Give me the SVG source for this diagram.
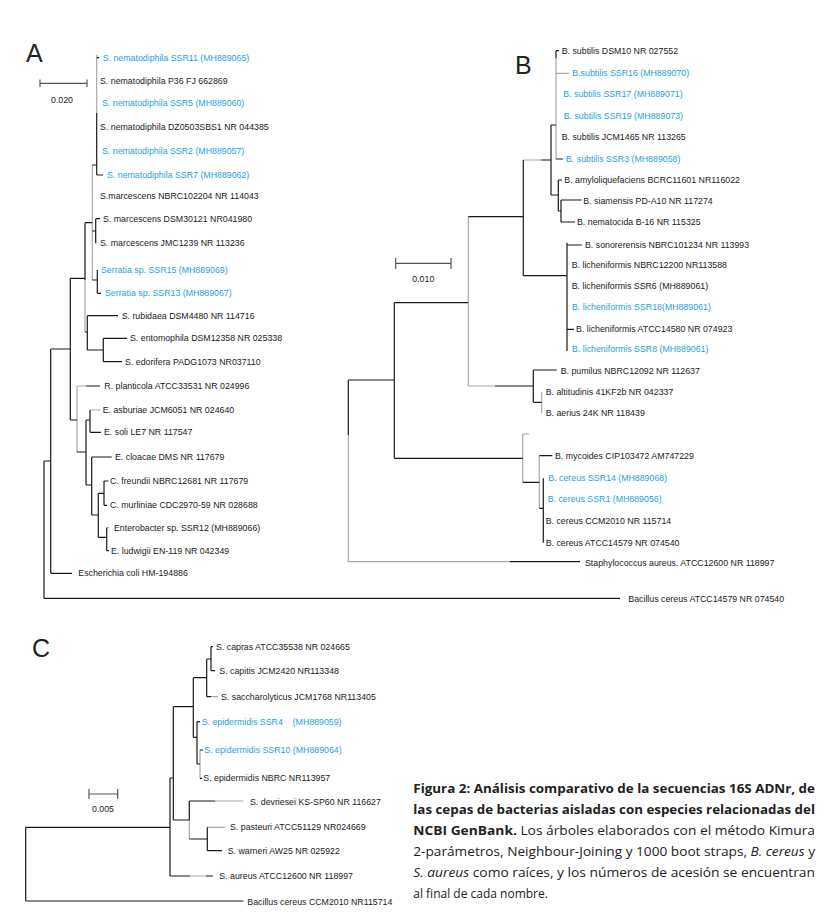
<svg xmlns="http://www.w3.org/2000/svg" width="837" height="915" viewBox="0 0 837 915">
<style>
.br{fill:none;stroke:#1a1a1a;stroke-width:1.2}
.gr{fill:none;stroke:#a8a8a8;stroke-width:1.2}
.sb{fill:none;stroke:#555;stroke-width:1.2}
.lf{font-family:"Liberation Sans",Arial,sans-serif;font-size:8.8px;fill:#1a1a1a}
.bl{fill:#1f9fe0}
.sc{font-family:"Liberation Sans",Arial,sans-serif;font-size:8.8px;fill:#1a1a1a;text-anchor:middle}
.let{font-family:"Liberation Sans",Arial,sans-serif;font-size:25px;fill:#222}
.cap{font-family:"Open Sans","Noto Sans",sans-serif;font-size:12px;fill:#222}
.b{font-weight:bold}
.i{font-style:italic}
</style>
<rect width="837" height="915" fill="#fff"/>

<!-- Panel letters -->
<g id="label-A"><text class="let" x="26" y="62">A</text></g>
<g id="label-B"><text class="let" x="515" y="74">B</text></g>
<g id="label-C"><text class="let" x="32" y="656.5">C</text></g>

<!-- Scale bars -->
<g id="scale-A">
<path class="sb" d="M40,83.3H87M40,79.5V87M87,79.5V87"/>
<text class="sc" x="62" y="103">0.020</text>
</g>
<g id="scale-B">
<path class="sb" d="M395.7,263.3H451M395.7,258V269M451,258V269"/>
<text class="sc" x="423.3" y="282">0.010</text>
</g>
<g id="scale-C">
<path class="sb" d="M89,794H117.7M89,789V799M117.7,789V799"/>
<text class="sc" x="103" y="812">0.005</text>
</g>

<!-- Connectors -->
<g id="connectors">
<g id="branches-A">
<path class="gr" d="M96.7,55V113M92.3,165V280M85,280V332M77,386V452M90,410H100M77,386H86M106.7,527.7H109"/>
<path class="br" d="M96.7,113V175M96.7,57.7H99M96.7,175H103M92.3,165H96.7
M95.7,218.7V243.3M92.3,231H95.7M95.7,218.7H100
M97.3,270V293.3M92.3,280H97.3M97.3,293.3H101
M85,222.7V280M85,222.7H92.3M70.3,278.3H85M85,332H87.3
M87.3,315.7V350M87.3,315.7H118M87.3,350H103.3
M103.3,338.3V361.7M103.3,338.3H127M103.3,361.7H122
M70.3,278.3V420M50.7,349H70.3M70.3,420H77
M86,386H100M77,452H86
M86,420V485M86,420H90M86,485H91.7
M90,410V432.3M90,432.3H101
M91.7,457V515M91.7,457H111.7M91.7,515H98.3
M98.3,493.3V537.3M98.3,493.3H104M98.3,537.3H106.7
M104,481V505.3M104,481H108.5M104,505.3H107
M106.7,527.7V550.7M106.7,550.7H109
M50.7,349V573.3M50.7,573.3H72M44,461H50.7
M44,461V598.3M44,598.3H620"/>
</g>
<g id="branches-B">
<path class="gr" d="M556,58V159M556,73.3H569.3M523.3,160H541M468.3,216.7V386M468.3,386H495M541.7,392V413.3M522.7,434V482.3M522.7,434H529M539.3,455.7V508.3M348.3,435V561.7M348.3,561.7H510"/>
<path class="br" d="M556,50.7V58M556,50.7H559M556,159H563M551,125H556
M551,125V195M551,195H558.3
M558.3,180V211M558.3,180H562M558.3,211H561
M561,200V222M561,200H581.7M561,222H575
M541,160H551
M523.3,160V275.7M523.3,275.7H567
M567,242.7V351M567,245H581.7M567,329.3H574
M468.3,216.7H523.3
M495,386H533.3
M533.3,370V402.3M533.3,370H556.7M533.3,402.3H541.7
M394.3,302.7H468.3
M394.3,302.7V458.3M394.3,458.3H522.7
M522.7,482.3H539.3
M539.3,455.7H552.3M539.3,508.3H543.3
M543.3,478.3V542.7
M348.3,380H394.3M348.3,380V435M510,561.7H580"/>
</g>
<g id="branches-C">
<path class="gr" d="M211,696.7H218M200,750V778.3M189.3,820V839M215,801H243.3M207.3,827.3H225M190,876H206"/>
<path class="br" d="M211,646.7V670.7M211,646.7H213M211,670.7H215
M206.7,659V696.7M206.7,659H211M206.7,696.7H211
M193.3,677.7V737.3M193.3,677.7H206.7M193.3,737.3H197
M197,721.7V764M197,721.7H200M197,764H200M200,750H203M200,778.3H202
M173.3,706.7V820M173.3,706.7H193.3M173.3,820H189.3
M189.3,801V820M189.3,801H215M189.3,839H207.3
M207.3,827.3V850.7M207.3,850.7H222
M170,778V876M170,778H173.3M170,876H190M206,876H213
M25.7,827.3H170
M25.7,827.3V901M25.7,901H243.3"/>
</g>
</g>

<!-- Tree A leaves -->
<g id="a01"><text class="lf bl" x="102.7" y="60.7">S. nematodiphila SSR11 (MH889065)</text></g>
<g id="a02"><text class="lf" x="100" y="84">S. nematodiphila P36 FJ 662869</text></g>
<g id="a03"><text class="lf bl" x="102" y="106.3">S. nematodiphila SSR5 (MH889060)</text></g>
<g id="a04"><text class="lf" x="100" y="129.7">S. nematodiphila DZ0503SBS1 NR 044385</text></g>
<g id="a05"><text class="lf bl" x="102" y="153.7">S. nematodiphila SSR2 (MH889057)</text></g>
<g id="a06"><text class="lf bl" x="107" y="178">S. nematodiphila SSR7 (MH889062)</text></g>
<g id="a07"><text class="lf" x="100" y="199">S.marcescens NBRC102204 NR 114043</text></g>
<g id="a08"><text class="lf" x="103" y="221.7">S. marcescens DSM30121 NR041980</text></g>
<g id="a09"><text class="lf" x="100" y="246.3">S. marcescens JMC1239 NR 113236</text></g>
<g id="a10"><text class="lf bl" x="101" y="273">Serratia sp. SSR15 (MH889069)</text></g>
<g id="a11"><text class="lf bl" x="105" y="296.3">Serratia sp. SSR13 (MH889067)</text></g>
<g id="a12"><text class="lf" x="121.7" y="318.7">S. rubidaea DSM4480 NR 114716</text></g>
<g id="a13"><text class="lf" x="130" y="341.3">S. entomophila DSM12358 NR 025338</text></g>
<g id="a14"><text class="lf" x="125" y="364.7">S. edorifera PADG1073 NR037110</text></g>
<g id="a15"><text class="lf" x="104.3" y="389">R. planticola ATCC33531 NR 024996</text></g>
<g id="a16"><text class="lf" x="102.7" y="413">E. asburiae JCM6051 NR 024640</text></g>
<g id="a17"><text class="lf" x="104" y="435.3">E. soli LE7 NR 117547</text></g>
<g id="a18"><text class="lf" x="115" y="460">E. cloacae DMS NR 117679</text></g>
<g id="a19"><text class="lf" x="110" y="484">C. freundii NBRC12681 NR 117679</text></g>
<g id="a20"><text class="lf" x="110" y="508.3">C. murliniae CDC2970-59 NR 028688</text></g>
<g id="a21"><text class="lf" x="114" y="530.7">Enterobacter sp. SSR12 (MH889066)</text></g>
<g id="a22"><text class="lf" x="111" y="553.7">E. ludwigii EN-119 NR 042349</text></g>
<g id="a23"><text class="lf" x="78.3" y="576.3">Escherichia coli HM-194886</text></g>
<g id="a24"><text class="lf" x="628.3" y="602">Bacillus cereus ATCC14579 NR 074540</text></g>

<!-- Tree B leaves -->
<g id="b01"><text class="lf" x="561.7" y="53.7">B. subtilis DSM10 NR 027552</text></g>
<g id="b02"><text class="lf bl" x="572.3" y="76.3">B.subtilis SSR16 (MH889070)</text></g>
<g id="b03"><text class="lf bl" x="563.3" y="97">B. subtilis SSR17 (MH889071)</text></g>
<g id="b04"><text class="lf bl" x="563.7" y="118.7">B. subtilis SSR19 (MH889073)</text></g>
<g id="b05"><text class="lf" x="561.7" y="140.3">B. subtilis JCM1465 NR 113265</text></g>
<g id="b06"><text class="lf bl" x="566" y="162">B. subtilis SSR3 (MH889058)</text></g>
<g id="b07"><text class="lf" x="564.3" y="183">B. amyloliquefaciens BCRC11601 NR116022</text></g>
<g id="b08"><text class="lf" x="583.3" y="204">B. siamensis PD-A10 NR 117274</text></g>
<g id="b09"><text class="lf" x="577" y="225">B. nematocida B-16 NR 115325</text></g>
<g id="b10"><text class="lf" x="585" y="248">B. sonorerensis NBRC101234 NR 113993</text></g>
<g id="b11"><text class="lf" x="571.7" y="268">B. licheniformis NBRC12200 NR113588</text></g>
<g id="b12"><text class="lf" x="571.7" y="288.7">B. licheniformis SSR6 (MH889061)</text></g>
<g id="b13"><text class="lf bl" x="572" y="309.7">B. licheniformis SSR18(MH889061)</text></g>
<g id="b14"><text class="lf" x="576" y="332.3">B. licheniformis ATCC14580 NR 074923</text></g>
<g id="b15"><text class="lf bl" x="572" y="352">B. licheniformis SSR8 (MH889061)</text></g>
<g id="b16"><text class="lf" x="560.7" y="374">B. pumilus NBRC12092 NR 112637</text></g>
<g id="b17"><text class="lf" x="545.7" y="395">B. altitudinis 41KF2b NR 042337</text></g>
<g id="b18"><text class="lf" x="545.7" y="416.3">B. aerius 24K NR 118439</text></g>
<g id="b19"><text class="lf" x="555" y="458.7">B. mycoides CIP103472 AM747229</text></g>
<g id="b20"><text class="lf bl" x="548.3" y="481.3">B. cereus SSR14 (MH889068)</text></g>
<g id="b21"><text class="lf bl" x="547.7" y="502.3">B. cereus SSR1 (MH889056)</text></g>
<g id="b22"><text class="lf" x="545.7" y="523.7">B. cereus CCM2010 NR 115714</text></g>
<g id="b23"><text class="lf" x="545.7" y="545.7">B. cereus ATCC14579 NR 074540</text></g>
<g id="b24"><text class="lf" x="585" y="566">Staphylococcus aureus. ATCC12600 NR 118997</text></g>

<!-- Tree C leaves -->
<g id="c01"><text class="lf" x="216" y="649.7">S. capras ATCC35538 NR 024665</text></g>
<g id="c02"><text class="lf" x="219.3" y="673.7">S. capitis JCM2420 NR113348</text></g>
<g id="c03"><text class="lf" x="221" y="699.7">S. saccharolyticus JCM1768 NR113405</text></g>
<g id="c04"><text class="lf bl" x="201.7" y="724.7" xml:space="preserve">S. epidermidis SSR4    (MH889059)</text></g>
<g id="c05"><text class="lf bl" x="204.3" y="753">S. epidermidis SSR10 (MH889064)</text></g>
<g id="c06"><text class="lf" x="203.3" y="781.3">S. epidermidis NBRC NR113957</text></g>
<g id="c07"><text class="lf" x="250" y="804.7">S. devriesei KS-SP60 NR 116627</text></g>
<g id="c08"><text class="lf" x="230" y="830.3">S. pasteuri ATCC51129 NR024669</text></g>
<g id="c09"><text class="lf" x="227.7" y="853.7">S. warneri AW25 NR 025922</text></g>
<g id="c10"><text class="lf" x="219.3" y="879.3">S. aureus ATCC12600 NR 118997</text></g>
<g id="c11"><text class="lf" x="247.3" y="904.7">Bacillus cereus CCM2010 NR115714</text></g>

<!-- Caption -->
<g id="caption">
<text class="cap b" x="413.3" y="792.7" textLength="401.7" lengthAdjust="spacingAndGlyphs">Figura 2: Análisis comparativo de la secuencias 16S ADNr, de</text>
<text class="cap b" x="413.3" y="813.7" textLength="401.7" lengthAdjust="spacingAndGlyphs">las cepas de bacterias aisladas con especies relacionadas del</text>
<text class="cap" x="413.3" y="834.7" textLength="401.7" lengthAdjust="spacingAndGlyphs"><tspan class="b">NCBI GenBank.</tspan> Los árboles elaborados con el método Kimura</text>
<text class="cap" x="413.3" y="855.7" textLength="401.7" lengthAdjust="spacingAndGlyphs">2-parámetros, Neighbour-Joining y 1000 boot straps, <tspan class="i">B. cereus</tspan> y</text>
<text class="cap" x="413.3" y="876.7" textLength="401.7" lengthAdjust="spacingAndGlyphs"><tspan class="i">S. aureus</tspan> como raíces, y los números de acesión se encuentran</text>
<text class="cap" x="413.3" y="897.7">al final de cada nombre.</text>
</g>
</svg>
